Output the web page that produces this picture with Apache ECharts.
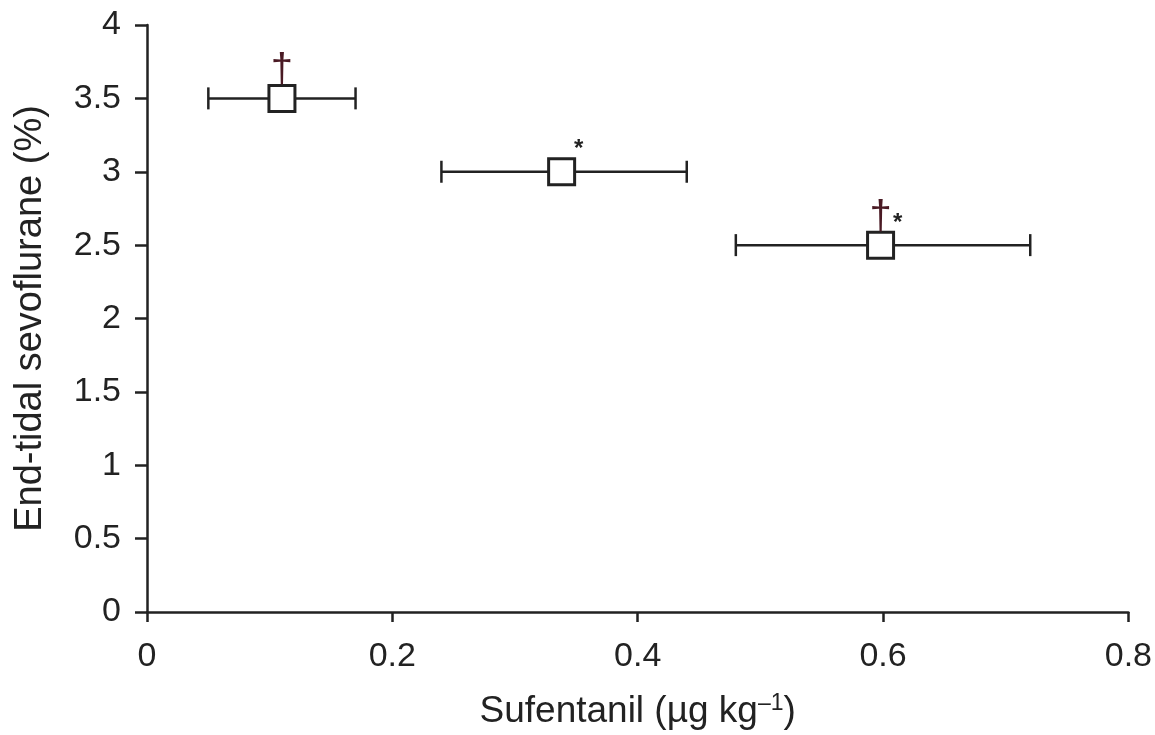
<!DOCTYPE html>
<html>
<head>
<meta charset="utf-8">
<script src="https://cdn.jsdelivr.net/npm/echarts@6/dist/echarts.min.js"></script>
<style>
html,body{margin:0;padding:0;background:#fff;}
#chart{width:1155px;height:735px;}
</style>
</head>
<body>
<div id="chart"></div>
<script>
// Data
const doses = [0.11, 0.338, 0.598];      // sufentanil mean (µg/kg)
const doseLow = [0.05, 0.24, 0.48];      // lower error bound
const doseHigh = [0.17, 0.44, 0.72];     // upper error bound
const sevo = [3.5, 3.0, 2.5];            // end-tidal sevoflurane (%)
const daggerMarks = ['†', '', '†'];
const starMarks = ['', '*', '*'];
const xTicks = [0, 0.2, 0.4, 0.6, 0.8];
const yTicks = [0, 0.5, 1, 1.5, 2, 2.5, 3, 3.5, 4];

const ink = '#222';
const font = 'Liberation Sans, Arial, sans-serif';

const errData = doses.map((d, i) => [doseLow[i], doseHigh[i], sevo[i]]);
const ptData = doses.map((d, i) => [d, sevo[i]]);
const markData = doses.map((d, i) => [d, sevo[i], i]);

const chart = echarts.init(document.getElementById('chart'), null, {renderer: 'canvas'});
chart.setOption({
  animation: false,
  backgroundColor: '#fff',
  grid: {left: 147, right: 26, top: 25, bottom: 118, containLabel: false},
  xAxis: {
    type: 'value', min: 0, max: 0.8, interval: 0.2,
    name: 'Sufentanil (µg kg{sup|–1})',
    nameLocation: 'middle', nameGap: 80,
    nameTextStyle: {fontFamily: font, fontSize: 37, color: ink,
      rich: {sup: {fontFamily: font, fontSize: 23, color: ink, verticalAlign: 'top', padding: [0,0,16,0]}}},
    axisLine: {show: true, lineStyle: {color: ink, width: 2.5}},
    axisTick: {show: true, length: 10, lineStyle: {color: ink, width: 2.5}},
    axisLabel: {fontFamily: font, fontSize: 34, color: ink, margin: 28,
      formatter: v => String(xTicks.find(t => Math.abs(t - v) < 1e-9) ?? v)},
    splitLine: {show: false}
  },
  yAxis: {
    type: 'value', min: 0, max: 4, interval: 0.5,
    name: 'End-tidal sevoflurane (%)',
    nameLocation: 'middle', nameGap: 97,
    nameTextStyle: {fontFamily: font, fontSize: 38, color: ink},
    axisLine: {show: true, lineStyle: {color: ink, width: 2.5}},
    axisTick: {show: true, length: 12, lineStyle: {color: ink, width: 2.5}},
    axisLabel: {fontFamily: font, fontSize: 34, color: ink, margin: 26,
      formatter: v => String(yTicks.find(t => Math.abs(t - v) < 1e-9) ?? v)},
    splitLine: {show: false}
  },
  series: [
    {
      type: 'custom',
      data: errData,
      z: 2,
      renderItem: (params, api) => {
        const lo = api.coord([api.value(0), api.value(2)]);
        const hi = api.coord([api.value(1), api.value(2)]);
        const cap = 11;
        const st = {stroke: ink, lineWidth: 2.5};
        return {type: 'group', children: [
          {type: 'line', shape: {x1: lo[0], y1: lo[1], x2: hi[0], y2: hi[1]}, style: st},
          {type: 'line', shape: {x1: lo[0], y1: lo[1]-cap, x2: lo[0], y2: lo[1]+cap}, style: st},
          {type: 'line', shape: {x1: hi[0], y1: hi[1]-cap, x2: hi[0], y2: hi[1]+cap}, style: st}
        ]};
      }
    },
    {
      type: 'scatter',
      data: ptData,
      z: 3,
      symbol: 'rect',
      symbolSize: 26,
      itemStyle: {color: '#fff', borderColor: ink, borderWidth: 3, opacity: 1}
    },
    {
      type: 'custom',
      data: markData,
      z: 4,
      renderItem: (params, api) => {
        const i = api.value(2);
        const p = api.coord([api.value(0), api.value(1)]);
        const kids = [];
        if (daggerMarks[i]) kids.push({type: 'text', x: p[0], y: p[1] - 7,
          style: {text: daggerMarks[i], fontFamily: font, fontSize: 40, fill: '#4a1a24',
            textAlign: 'center', textVerticalAlign: 'bottom'}});
        if (starMarks[i]) kids.push({type: 'text', x: p[0] + 17, y: p[1] - 22,
          style: {text: starMarks[i], fontFamily: font, fontSize: 24, fontWeight: 'bold', fill: ink,
            textAlign: 'center', textVerticalAlign: 'middle'}});
        return {type: 'group', children: kids};
      }
    }
  ]
});
</script>
</body>
</html>
